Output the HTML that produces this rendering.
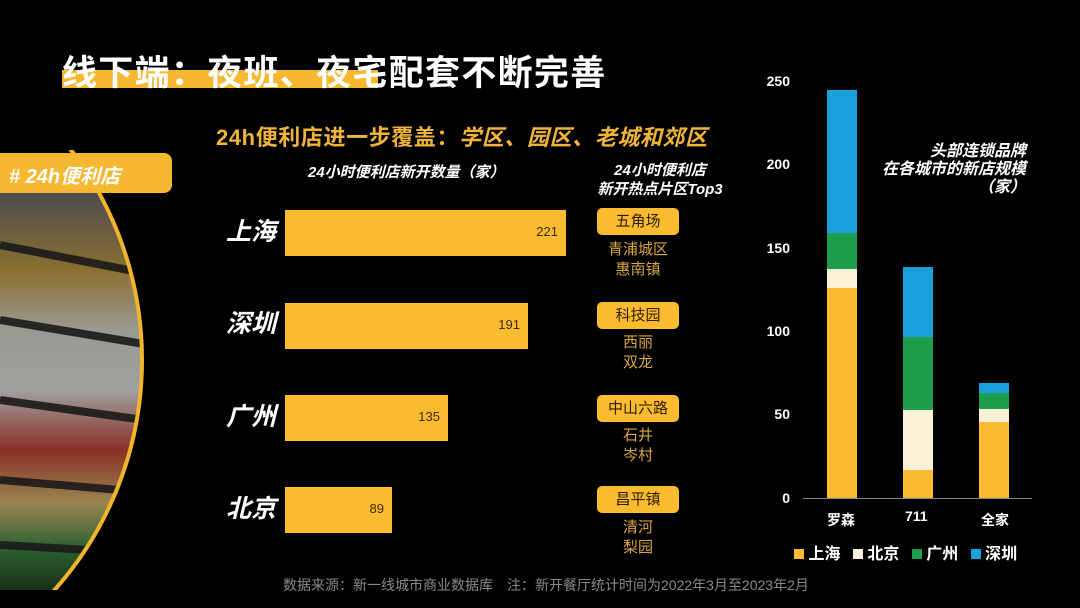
<!DOCTYPE html>
<html><head><meta charset="utf-8"><style>
*{margin:0;padding:0;box-sizing:border-box}
html,body{width:1080px;height:608px;overflow:hidden}
body{background:#000;position:relative;font-family:"Liberation Sans","Noto Sans CJK SC",sans-serif;color:#fff}
.a{position:absolute;white-space:nowrap}
.city{font-size:25px;font-weight:bold;font-style:italic;color:#fff;left:226px}
.bar{position:absolute;left:285px;height:46px;background:#fbbb2e}
.val{position:absolute;right:8px;top:14px;font-size:13px;color:#3a2a00}
.pill{position:absolute;left:597px;width:82px;height:27px;background:#fbbb2e;border-radius:5px;text-align:center;font-size:15px;line-height:27px;color:#2a1d00}
.sub{position:absolute;left:588px;width:100px;text-align:center;font-size:15px;line-height:20px;color:#d9a640}
.yt{position:absolute;left:755px;width:35px;text-align:right;font-size:14px;font-weight:bold;color:#fff}
</style></head><body>
<div class="a" style="left:62px;top:70px;width:316px;height:18px;background:#f5b830"></div>
<div class="a" style="left:62px;top:45px;font-size:35px;font-weight:bold;letter-spacing:1.3px">线下端：夜班、夜宅配套不断完善</div>

<svg class="a" style="left:0;top:150px" width="180" height="440">
<defs><clipPath id="c"><circle cx="-204" cy="210" r="346"/></clipPath>
<linearGradient id="g" x1="0" y1="0" x2="0" y2="1">
<stop offset="0" stop-color="#4a4a50"/><stop offset="0.2" stop-color="#8a7030"/><stop offset="0.35" stop-color="#9a9a92"/><stop offset="0.5" stop-color="#a0a0a0"/><stop offset="0.65" stop-color="#8a3025"/><stop offset="0.78" stop-color="#9a8450"/><stop offset="0.9" stop-color="#2a6030"/><stop offset="1" stop-color="#183018"/></linearGradient></defs>
<g clip-path="url(#c)">
<rect x="0" y="40" width="180" height="400" fill="url(#g)"/>
<g stroke="#1a1a1a" stroke-width="8" opacity="0.9">
<line x1="0" y1="95" x2="180" y2="130"/><line x1="0" y1="170" x2="180" y2="200"/><line x1="0" y1="250" x2="180" y2="275"/><line x1="0" y1="330" x2="180" y2="345"/><line x1="0" y1="395" x2="180" y2="405"/></g>
</g>
<circle cx="-204" cy="210" r="346" fill="none" stroke="#f0b52c" stroke-width="4"/>
</svg>
<div class="a" style="left:0;top:153px;width:172px;height:40px;background:#f5b830;border-radius:0 8px 8px 0"></div>
<div class="a" style="left:9px;top:160px;font-size:20px;font-weight:bold;font-style:italic">#  24h便利店</div>

<div class="a" style="left:216px;top:120px;font-size:22px;font-weight:bold;color:#f1b43a;letter-spacing:0.6px">24h便利店进一步覆盖：<i>学区、园区、老城和郊区</i></div>
<div class="a" style="left:308px;top:161px;font-size:15px;font-weight:bold;font-style:italic">24小时便利店新开数量（家）</div>
<div class="a" style="left:580px;top:161px;width:160px;text-align:center;font-size:15px;font-weight:bold;font-style:italic;line-height:19px">24小时便利店<br>新开热点片区Top3</div>

<div class="a city" style="top:212px">上海</div>
<div class="bar" style="top:210px;width:281px"><span class="val">221</span></div>
<div class="a city" style="top:304px">深圳</div>
<div class="bar" style="top:303px;width:243px"><span class="val">191</span></div>
<div class="a city" style="top:397px">广州</div>
<div class="bar" style="top:395px;width:163px"><span class="val">135</span></div>
<div class="a city" style="top:489px">北京</div>
<div class="bar" style="top:487px;width:107px"><span class="val">89</span></div>

<div class="pill" style="top:208px">五角场</div><div class="sub" style="top:240px">青浦城区<br>惠南镇</div>
<div class="pill" style="top:302px">科技园</div><div class="sub" style="top:333px">西丽<br>双龙</div>
<div class="pill" style="top:395px">中山六路</div><div class="sub" style="top:426px">石井<br>岑村</div>
<div class="pill" style="top:486px">昌平镇</div><div class="sub" style="top:518px">清河<br>梨园</div>

<div class="yt" style="top:73px">250</div>
<div class="yt" style="top:156px">200</div>
<div class="yt" style="top:240px">150</div>
<div class="yt" style="top:323px">100</div>
<div class="yt" style="top:406px">50</div>
<div class="yt" style="top:490px">0</div>
<div class="a" style="left:803px;top:498px;width:229px;height:1px;background:#888"></div>
<svg class="a" style="left:820px;top:80px" width="200" height="420">
<rect x="7" y="10" width="30" height="143" fill="#1aa0dc"/>
<rect x="7" y="153" width="30" height="36" fill="#1e9e4c"/>
<rect x="7" y="189" width="30" height="19" fill="#fbf0d8"/>
<rect x="7" y="208" width="30" height="210" fill="#fbbb2e"/>
<rect x="83" y="187" width="30" height="70" fill="#1aa0dc"/>
<rect x="83" y="257" width="30" height="73" fill="#1e9e4c"/>
<rect x="83" y="330" width="30" height="60" fill="#fbf0d8"/>
<rect x="83" y="390" width="30" height="28" fill="#fbbb2e"/>
<rect x="159" y="303" width="30" height="10" fill="#1aa0dc"/>
<rect x="159" y="313" width="30" height="16" fill="#1e9e4c"/>
<rect x="159" y="329" width="30" height="13" fill="#fbf0d8"/>
<rect x="159" y="342" width="30" height="76" fill="#fbbb2e"/>
</svg>
<div class="a" style="left:860px;top:143px;width:166px;text-align:right;font-size:16px;font-weight:bold;font-style:italic;line-height:18px">头部连锁品牌<br>在各城市的新店规模<br>（家）</div>
<div class="a" style="left:827px;top:510px;font-size:14px;font-weight:bold">罗森</div>
<div class="a" style="left:905px;top:508px;font-size:14px;font-weight:bold">711</div>
<div class="a" style="left:981px;top:510px;font-size:14px;font-weight:bold">全家</div>
<div class="a" style="left:794px;top:540px;font-size:16px;font-weight:bold">
<span style="display:inline-block;width:10px;height:10px;background:#fbbb2e"></span> 上海 
<span style="display:inline-block;width:10px;height:10px;background:#fbf0d8;margin-left:8px"></span> 北京 
<span style="display:inline-block;width:10px;height:10px;background:#1e9e4c;margin-left:8px"></span> 广州 
<span style="display:inline-block;width:10px;height:10px;background:#1aa0dc;margin-left:8px"></span> 深圳</div>

<div class="a" style="left:283px;top:575px;font-size:14px;color:#8a8a8a">数据来源：新一线城市商业数据库　注：新开餐厅统计时间为2022年3月至2023年2月</div>
</body></html>
